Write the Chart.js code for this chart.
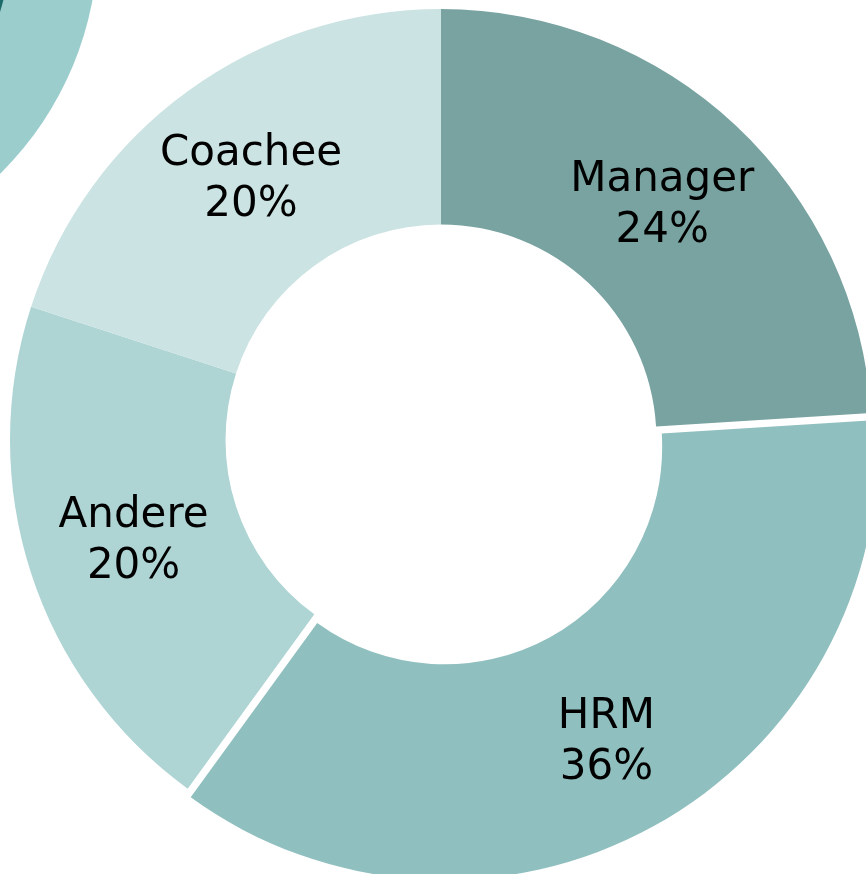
<!DOCTYPE html>
<html>
<head>
<meta charset="utf-8">
<script src="https://cdn.jsdelivr.net/npm/chart.js@4"></script>
<style>
  html, body { margin: 0; padding: 0; width: 866px; height: 874px; overflow: hidden; background: #fff; }
  .deco { position: absolute; border-radius: 50%; }
  #wrap { position: absolute; left: -6px; top: -7px; width: 894px; height: 894px; }
</style>
</head>
<body>
<div class="deco" style="left:-558px; top:-388px; width:656px; height:656px; background:#9ccdcd;"></div>
<div class="deco" style="left:-471px; top:-301px; width:482px; height:482px; background:#1d6a6a;"></div>
<div id="wrap"><canvas id="myChart" width="894" height="894"></canvas></div>
<script>
const labels = ["Manager", "HRM", "Andere", "Coachee"];
const shares = [24, 36, 20, 20];
const sliceColors = ["#78a3a1", "#90bfbf", "#aed4d4", "#cce3e3"];
// Chart.js v4 moves an arc by offset / 4, so 32 pulls HRM out by 8px
const sliceOffsets = [0, 32, 0, 0];

// writes "Name" and "xx%" in the middle of each slice
const sliceLabels = {
  id: "sliceLabels",
  afterDatasetsDraw(chart) {
    const ctx = chart.ctx;
    const meta = chart.getDatasetMeta(0);
    ctx.save();
    ctx.font = "42px 'DejaVu Sans', Verdana, sans-serif";
    ctx.fillStyle = "#000";
    ctx.textAlign = "center";
    ctx.textBaseline = "middle";
    meta.data.forEach((arc, i) => {
      const p = arc.getCenterPoint();
      const mid = (arc.startAngle + arc.endAngle) / 2;
      const x = p.x + Math.cos(mid) * sliceOffsets[i] / 8;
      const y = p.y + Math.sin(mid) * sliceOffsets[i] / 8;
      ctx.fillText(labels[i], x, y - 24);
      ctx.fillText(shares[i] + "%", x, y + 27);
    });
    ctx.restore();
  },
};

new Chart(document.getElementById("myChart"), {
  type: "doughnut",
  data: {
    labels: labels,
    datasets: [
      {
        data: shares,
        backgroundColor: sliceColors,
        borderWidth: 0,
        offset: sliceOffsets,
      },
    ],
  },
  options: {
    responsive: false,
    animation: false,
    cutout: "50%",
    layout: { padding: 0 },
    plugins: {
      legend: { display: false },
      tooltip: { enabled: false },
    },
  },
  plugins: [sliceLabels],
});
</script>
</body>
</html>
